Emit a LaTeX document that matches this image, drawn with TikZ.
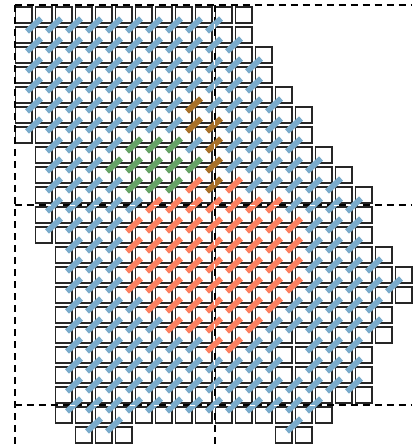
\documentclass[tikz,border=0pt]{standalone}
\definecolor{cblue}{HTML}{7AABCB}
\definecolor{csalmon}{HTML}{FC8060}
\definecolor{cgreen}{HTML}{66A366}
\definecolor{cbrown}{HTML}{A87028}
\tikzset{
  cell/.style={draw=black!85,line width=1.8pt},
  hop/.style={line width=5.8pt},
  guideblack/.style={black,line width=2pt,dash pattern=on 7pt off 5pt},
  guidewhite/.style={white,line width=1pt,dash pattern=on 5pt off 7pt,dash phase=-7pt},
}
\begin{document}
\begin{tikzpicture}[x=1pt,y=-1pt]
\useasboundingbox (0,0) rectangle (412,446);
\fill[white] (0,0) rectangle (412,446);
% cells: row / first column / last column
\foreach \r/\a/\b in {0/0/11,1/0/11,2/0/12,3/0/12,4/0/13,5/0/14,6/0/14,7/1/15,8/1/16,9/1/17,10/1/17,11/1/17,12/2/18,13/2/19,14/2/19,15/2/18,16/2/18,17/2/17,18/2/17,19/2/17,20/2/15,21/3/5,21/13/14}{
  \foreach \c in {\a,...,\b}{
    \draw[cell] ({15.5+20*\c},{7+20*\r}) rectangle ({32+20*\c},{23+20*\r});
  }
}
% dashed guide lines, lower layer
\coordinate (h1a) at (14.5,5); \coordinate (h1b) at (412,5);
\coordinate (h2a) at (14.5,205); \coordinate (h2b) at (412,205);
\coordinate (h3a) at (14.5,405); \coordinate (h3b) at (412,405);
\coordinate (v1a) at (14.5,5); \coordinate (v1b) at (14.5,446);
\coordinate (v2a) at (214.5,5); \coordinate (v2b) at (214.5,446);
\foreach \p/\q in {h1a/h1b,h2a/h2b,h3a/h3b,v1a/v1b,v2a/v2b}{
  \draw[guideblack] (\p) -- (\q);
}
% hops: row / first column / last column / colour
\foreach \r/\a/\b/\col in {
 0/0/9/cblue,1/0/10/cblue,2/0/11/cblue,3/0/11/cblue,
 4/0/7/cblue,4/8/8/cbrown,4/9/12/cblue,
 5/0/7/cblue,5/8/9/cbrown,5/10/13/cblue,
 6/1/4/cblue,6/5/7/cgreen,6/8/8/cblue,6/9/9/cbrown,6/10/13/cblue,
 7/1/3/cblue,7/4/8/cgreen,7/9/9/cbrown,7/10/14/cblue,
 8/1/4/cblue,8/5/7/cgreen,8/8/8/csalmon,8/9/9/cbrown,8/10/10/csalmon,8/11/15/cblue,
 9/1/5/cblue,9/6/12/csalmon,9/13/16/cblue,
 10/1/4/cblue,10/5/13/csalmon,10/14/16/cblue,
 11/2/4/cblue,11/5/13/csalmon,11/14/16/cblue,
 12/2/4/cblue,12/5/13/csalmon,12/14/17/cblue,
 13/2/4/cblue,13/5/13/csalmon,13/14/18/cblue,
 14/2/5/cblue,14/6/12/csalmon,14/13/17/cblue,
 15/2/6/cblue,15/7/11/csalmon,15/12/17/cblue,
 16/2/8/cblue,16/9/10/csalmon,16/11/12/cblue,16/14/16/cblue,
 17/2/12/cblue,17/14/16/cblue,18/2/16/cblue,19/2/14/cblue,
 20/3/4/cblue,20/13/13/cblue}{
  \foreach \c in {\a,...,\b}{
    \draw[hop,\col] ({34+20*\c-7},{25+20*\r+6.5}) -- ({34+20*\c+7},{25+20*\r-6.5});
  }
}
% dashed guide lines, white upper layer
\foreach \p/\q in {h2a/h2b,h3a/h3b,v2a/v2b}{
  \draw[guidewhite] (\p) -- (\q);
}
\end{tikzpicture}
\end{document}
